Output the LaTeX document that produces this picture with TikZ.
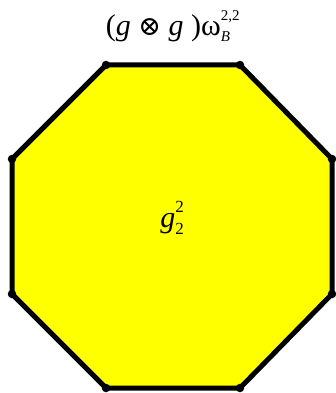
\documentclass[tikz,border=0pt]{standalone}
\usepackage{fontspec}
\setmainfont{Liberation Serif}
\newfontfamily\symfont{DejaVu Serif}
\definecolor{octfill}{RGB}{255,255,0}
\begin{document}
\begin{tikzpicture}[x=1pt,y=-1pt,
  edge/.style={line width=5pt,line join=round,draw=black},
  vdot/.style={circle,fill=black,inner sep=0pt,minimum size=8.5pt},
  lbl/.style={inner sep=0pt,font=\fontsize{30}{34}\selectfont}]
\useasboundingbox (0,0) rectangle (336,393);
\coordinate (p1) at (106,65);
\coordinate (p2) at (240,65);
\coordinate (p3) at (332,159);
\coordinate (p4) at (332,294);
\coordinate (p5) at (240,388);
\coordinate (p6) at (106,388);
\coordinate (p7) at (12,294);
\coordinate (p8) at (12,159);
\fill[octfill] (p1)--(p2)--(p3)--(p4)--(p5)--(p6)--(p7)--(p8)--cycle;
\draw[edge] (p1)--(p2)--(p3)--(p4)--(p5)--(p6)--(p7)--(p8)--cycle;
\foreach \p in {p1,p2,p3,p4,p5,p6,p7,p8} \node[vdot] at (\p) {};
\node[lbl,anchor=base] (title) at (168,36) {(\textit{g} {\symfont\fontsize{27}{27}\selectfont ⊗} \textit{g} )ω\rlap{\raisebox{0.5em}{\fontsize{15}{15}\selectfont 2,2}}\raisebox{-0.2em}{\fontsize{15}{15}\selectfont\textit{B}}};
\node[lbl,anchor=base] (center) at (172,227) {\textit{g}\rlap{\raisebox{0.5em}{\fontsize{17}{17}\selectfont 2}}\raisebox{-0.25em}{\fontsize{17}{17}\selectfont 2}};
\end{tikzpicture}
\end{document}
